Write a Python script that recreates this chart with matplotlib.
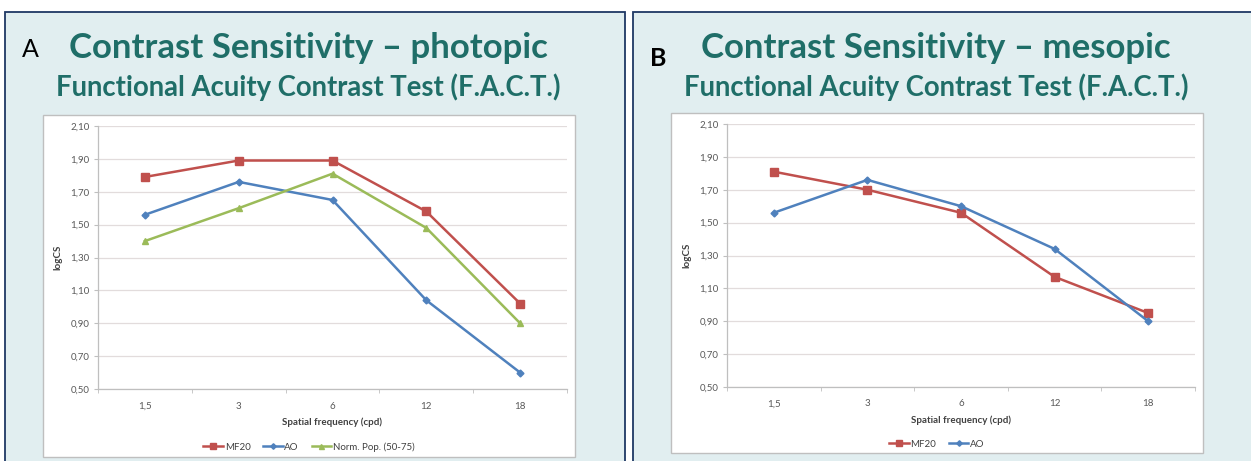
import matplotlib
matplotlib.use("Agg")
import matplotlib.pyplot as plt
from matplotlib.patches import Rectangle

W, H = 1251, 461

# chart data
freq_labels = ["1,5", "3", "6", "12", "18"]
y_ticks = [0.50, 0.70, 0.90, 1.10, 1.30, 1.50, 1.70, 1.90, 2.10]

photopic_mf20 = [1.79, 1.89, 1.89, 1.58, 1.02]
photopic_ao = [1.56, 1.76, 1.65, 1.04, 0.60]
photopic_norm = [1.40, 1.60, 1.81, 1.48, 0.90]

mesopic_mf20 = [1.81, 1.70, 1.56, 1.17, 0.95]
mesopic_ao = [1.56, 1.76, 1.60, 1.34, 0.90]

TEAL = "#1f6e68"
NAVY = "#1f3864"
PANEL_BG = "#e1eef0"
GRID = "#e2dcdc"
AXIS = "#bfbfbf"
TICK_TXT = "#595959"

STYLES = {
    "MF20": dict(color="#c0504d", marker="s", ms=6),
    "AO": dict(color="#4f81bd", marker="D", ms=3.5),
    "Norm. Pop. (50-75)": dict(color="#9bbb59", marker="^", ms=4.5),
}

plt.rcParams["font.family"] = ["Lato", "DejaVu Sans"]


def fx(x):
    return x / W


def fy(y):
    return 1 - y / H


def px_box(x0, y0, x1, y1):
    return [fx(x0), fy(y1), (x1 - x0) / W, (y1 - y0) / H]


def panel(fig, letter, title, x0, x1, chart_box, plot_box, series, legend_xy, title_cx,
          letter_xy, letter_weight):
    # panel background with navy border
    fig.patches.append(Rectangle((fx(x0), -0.05), (x1 - x0) / W, fy(12) + 0.05,
                                 transform=fig.transFigure, facecolor=PANEL_BG,
                                 edgecolor=NAVY, lw=1.3, zorder=-3))
    cx0, cy0, cx1, cy1 = chart_box
    fig.patches.append(Rectangle((fx(cx0), fy(cy1)), (cx1 - cx0) / W, (cy1 - cy0) / H,
                                 transform=fig.transFigure, facecolor="white",
                                 edgecolor=AXIS, lw=1.0, zorder=-2))

    fig.text(fx(letter_xy[0]), fy(letter_xy[1]), letter, fontsize=18,
             fontweight=letter_weight, color="black", va="baseline", ha="left")
    fig.text(fx(title_cx), fy(58), title, fontsize=25, fontweight="bold",
             color=TEAL, ha="center", va="baseline")
    fig.text(fx(title_cx), fy(96), "Functional Acuity Contrast Test (F.A.C.T.)",
             fontsize=19.8, fontweight="bold", color=TEAL, ha="center", va="baseline")

    ax = fig.add_axes(px_box(*plot_box))
    ax.set_facecolor("none")
    xs = list(range(len(freq_labels)))
    handles = []
    for name, values in series:
        st = STYLES[name]
        h, = ax.plot(xs, values, color=st["color"], lw=1.8, marker=st["marker"],
                     ms=st["ms"], mfc=st["color"], mec=st["color"], label=name)
        handles.append(h)

    ax.set_xlim(-0.5, len(freq_labels) - 0.5)
    ax.set_ylim(y_ticks[0], y_ticks[-1])
    ax.set_yticks(y_ticks)
    ax.set_yticklabels([f"{v:.2f}".replace(".", ",") for v in y_ticks])
    ax.set_xticks(xs)
    ax.set_xticklabels(freq_labels)
    ax.set_xticks([i - 0.5 for i in range(len(freq_labels) + 1)], minor=True)
    ax.tick_params(axis="x", which="major", length=0, pad=9, labelsize=7,
                   labelcolor=TICK_TXT)
    ax.tick_params(axis="x", which="minor", length=3, color=AXIS, direction="out")
    ax.tick_params(axis="y", length=3, color=AXIS, labelsize=7, labelcolor=TICK_TXT,
                   pad=3)
    ax.grid(axis="y", color=GRID, lw=0.9)
    ax.set_axisbelow(True)
    for s in ("top", "right"):
        ax.spines[s].set_visible(False)
    for s in ("left", "bottom"):
        ax.spines[s].set_color(AXIS)
        ax.spines[s].set_linewidth(0.9)

    ax.set_xlabel("Spatial frequency (cpd)", fontsize=7, fontweight="bold",
                  color="#404040", labelpad=5)
    ax.set_ylabel("logCS", fontsize=7, fontweight="bold", color="#404040", labelpad=6)

    ax.legend(handles=handles, loc="center", ncol=len(handles),
              bbox_to_anchor=(fx(legend_xy[0]), fy(legend_xy[1])),
              bbox_transform=fig.transFigure, frameon=False, fontsize=7,
              handlelength=2.0, handletextpad=0.2, columnspacing=1.3,
              labelcolor="#404040", markerscale=0.8)
    return ax


fig = plt.figure(figsize=(W / 100, H / 100), dpi=100)
fig.patch.set_facecolor("white")

panel(fig, "A", "Contrast Sensitivity \u2013 photopic", 5, 625,
      (43, 115, 575, 457), (98, 126, 567, 389),
      [("MF20", photopic_mf20), ("AO", photopic_ao),
       ("Norm. Pop. (50-75)", photopic_norm)],
      (309, 447), 308, (22, 57), "normal")

panel(fig, "B", "Contrast Sensitivity \u2013 mesopic", 633, 1262,
      (671, 113, 1203, 453), (727, 124, 1195, 387),
      [("MF20", mesopic_mf20), ("AO", mesopic_ao)],
      (937, 444), 936, (650, 66), "bold")

fig.savefig("out.png", dpi=100, facecolor="white")
